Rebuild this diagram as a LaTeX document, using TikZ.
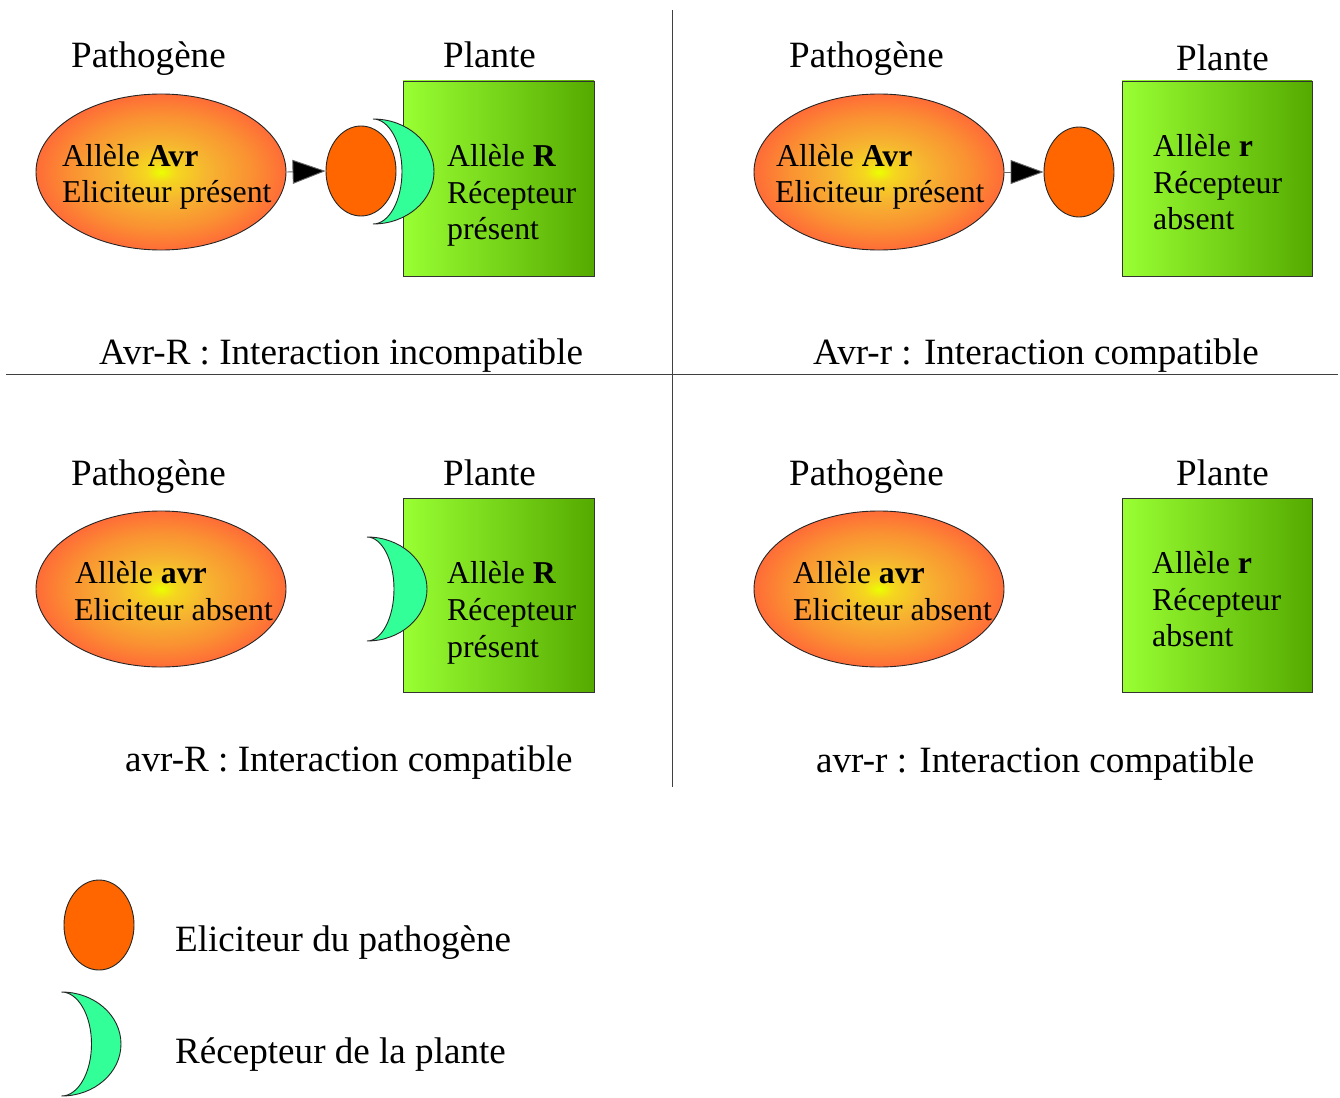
\documentclass[tikz,border=0pt]{standalone}
\usepackage{fontspec}
\setmainfont{Liberation Serif}
\usetikzlibrary{shapes.geometric,arrows.meta}
\definecolor{elic}{RGB}{255,102,0}
\definecolor{recep}{RGB}{51,255,153}
\definecolor{boxL}{RGB}{153,255,51}
\definecolor{boxR}{RGB}{85,170,0}
\definecolor{pcenter}{RGB}{235,255,0}
\definecolor{pinner}{RGB}{245,215,30}
\definecolor{pmid}{RGB}{246,182,48}
\definecolor{pouter}{RGB}{250,145,50}
\definecolor{pedge}{RGB}{255,108,55}
\pgfdeclareradialshading{pathshade}{\pgfpoint{0bp}{0bp}}{color(0bp)=(pcenter); color(3bp)=(pinner); color(9bp)=(pmid); color(18bp)=(pouter); color(25bp)=(pedge); color(50bp)=(pedge)}
\tikzset{
  titletext/.style={font=\fontsize{37.1}{40}\selectfont, inner sep=0pt, anchor=base west},
  innertext/.style={font=\fontsize{31.8}{37}\selectfont, inner sep=0pt, anchor=base west},
  pathoval/.style={ellipse, draw=black!85, line width=0.9pt, minimum width=250pt, minimum height=156pt, inner sep=0pt, shading=pathshade},
  elicnode/.style={ellipse, draw=black!85, line width=0.9pt, fill=elic, minimum width=70pt, minimum height=90pt, inner sep=0pt},
  plantbox/.style={draw=black!80, line width=0.9pt, left color=boxL, right color=boxR},
  crescentstyle/.style={draw=black!85, line width=0.9pt, fill=recep},
  sepline/.style={draw=black!75, line width=0.9pt},
  bindarrow/.style={draw=black!60, line width=0.9pt, -{Triangle[length=33pt,width=24pt,fill=black]}},
}
\newcommand\mycrescent[5]{%
  \pgfmathsetmacro\cym{(#2+#3)/2}%
  \pgfmathsetmacro\chr{(#3-#2)/2}%
  \draw[crescentstyle] (#1,#2) .. controls ({#1+0.552*(#4-#1)},#2) and (#4,{\cym-0.552*\chr}) .. (#4,\cym)
     .. controls (#4,{\cym+0.552*\chr}) and ({#1+0.552*(#4-#1)},#3) .. (#1,#3)
     .. controls ({#1+0.552*(#5-#1)},#3) and (#5,{\cym+0.552*\chr}) .. (#5,\cym)
     .. controls (#5,{\cym-0.552*\chr}) and ({#1+0.552*(#5-#1)},#2) .. (#1,#2) -- cycle;}
\begin{document}
\begin{tikzpicture}[x=1pt,y=-1pt]
\useasboundingbox (0,0) rectangle (1340,1097);
\fill[white] (0,0) rectangle (1340,1097);
% separators
\draw[sepline] (672,10) -- (672,787);
\draw[sepline] (6,374) -- (1338,374);

% ===== top-left =====
\node[titletext] (tlp) at (71,68) {Pathogène};
\node[titletext] (tlq) at (443,68) {Plante};
\node[pathoval] (e1) at (161,172) {};
\node[innertext] (e1a) at (62,166) {Allèle \textbf{Avr}};
\node[innertext] (e1b) at (62,202) {Eliciteur présent};
\draw[plantbox] (403,81) rectangle (594,276);
\mycrescent{373}{119}{224}{434}{402}
\node[elicnode] (c1) at (361,171) {};
\draw[bindarrow] (e1.east) -- (c1.west);
\node[innertext] (b1a) at (447,166) {Allèle \textbf{R}};
\node[innertext] (b1b) at (447,203) {Récepteur};
\node[innertext] (b1c) at (447,239) {présent};
\node[titletext] (cap1) at (99,364) {Avr-R : Interaction incompatible};

% ===== top-right =====
\node[titletext] (trp) at (789,68) {Pathogène};
\node[titletext] (trq) at (1176,71) {Plante};
\node[pathoval] (e2) at (879,172) {};
\node[innertext] (e2a) at (776,166) {Allèle \textbf{Avr}};
\node[innertext] (e2b) at (775,202) {Eliciteur présent};
\draw[plantbox] (1122,81) rectangle (1312,276);
\node[elicnode] (c2) at (1079,172) {};
\draw[bindarrow] (e2.east) -- (c2.west);
\node[innertext] (b2a) at (1153,156) {Allèle \textbf{r}};
\node[innertext] (b2b) at (1153,193) {Récepteur};
\node[innertext] (b2c) at (1153,229) {absent};
\node[titletext] (cap2) at (813,364) {Avr-r : Interaction compatible};

% ===== bottom-left =====
\node[titletext] (blp) at (71,485) {Pathogène};
\node[titletext] (blq) at (443,485) {Plante};
\node[pathoval] (e3) at (161,589) {};
\node[innertext] (e3a) at (75,583) {Allèle \textbf{avr}};
\node[innertext] (e3b) at (74,620) {Eliciteur absent};
\draw[plantbox] (403,498) rectangle (594,692);
\mycrescent{367}{537}{641}{427}{394}
\node[innertext] (b3a) at (447,583) {Allèle \textbf{R}};
\node[innertext] (b3b) at (447,620) {Récepteur};
\node[innertext] (b3c) at (447,657) {présent};
\node[titletext] (cap3) at (125,771) {avr-R : Interaction compatible};

% ===== bottom-right =====
\node[titletext] (brp) at (789,485) {Pathogène};
\node[titletext] (brq) at (1176,485) {Plante};
\node[pathoval] (e4) at (879,589) {};
\node[innertext] (e4a) at (793,583) {Allèle \textbf{avr}};
\node[innertext] (e4b) at (793,620) {Eliciteur absent};
\draw[plantbox] (1122,498) rectangle (1312,692);
\node[innertext] (b4a) at (1152,573) {Allèle \textbf{r}};
\node[innertext] (b4b) at (1152,610) {Récepteur};
\node[innertext] (b4c) at (1152,646) {absent};
\node[titletext] (cap4) at (816,772) {avr-r : Interaction compatible};

% ===== legend =====
\node[elicnode] (c3) at (99,925) {};
\node[titletext] (l1) at (175,951) {Eliciteur du pathogène};
\mycrescent{61.5}{992}{1096}{121}{91.5}
\node[titletext] (l2) at (175,1063) {Récepteur de la plante};
\end{tikzpicture}
\end{document}
